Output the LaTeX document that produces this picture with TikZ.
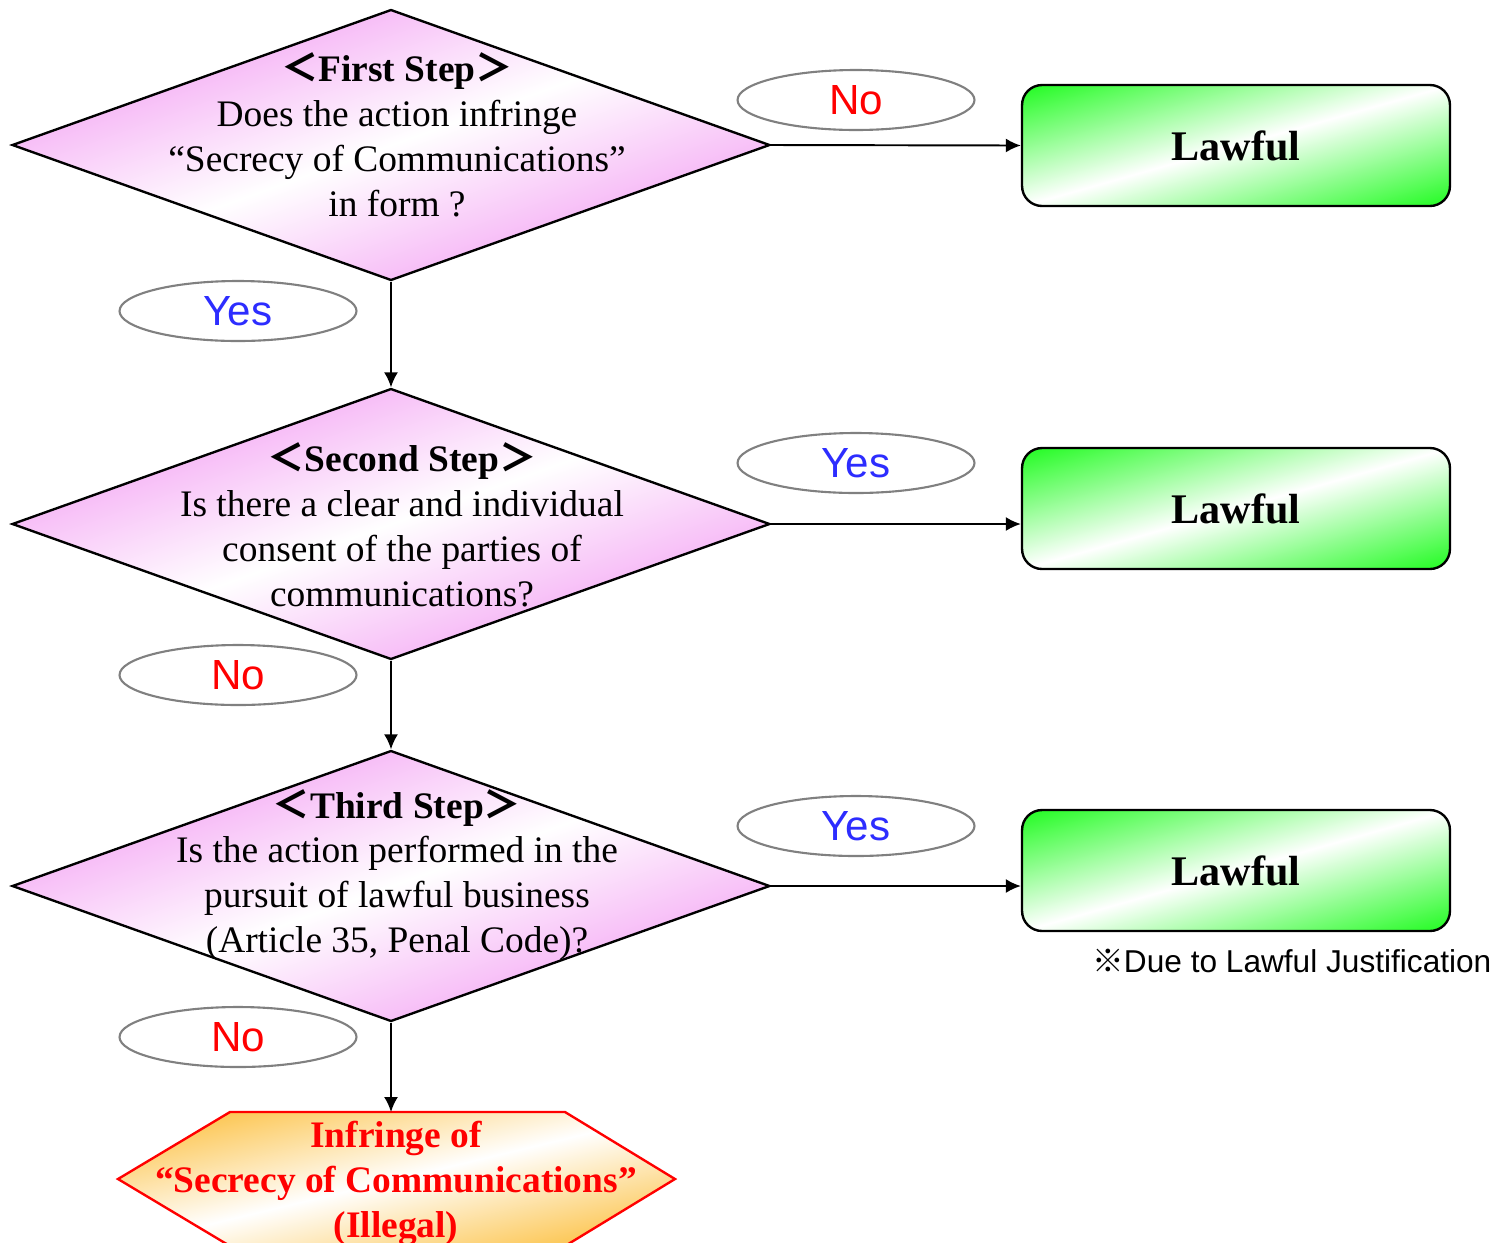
\documentclass[tikz,border=0pt]{standalone}
\usepackage{fontspec}
\setmainfont{Liberation Serif}
\setsansfont{Liberation Sans}
\newfontfamily\cjk{Noto Sans CJK JP}
\usetikzlibrary{arrows.meta,shapes.geometric}

\definecolor{stepink}{RGB}{247,190,247}
\definecolor{lawgreen}{RGB}{45,252,45}
\definecolor{illorange}{RGB}{252,196,76}
\definecolor{yesblue}{RGB}{45,45,255}

% diagonal fills: colour on both sides, white band through the middle
\pgfdeclareverticalshading{stepshade}{16cm}{color(0cm)=(stepink); color(0.5cm)=(stepink); color(3.05cm)=(white); color(5.6cm)=(stepink); color(6.1cm)=(stepink)}
\pgfdeclareverticalshading{lawshade}{12cm}{color(0cm)=(lawgreen); color(0.5cm)=(lawgreen); color(2.7cm)=(white); color(4.9cm)=(lawgreen); color(5.4cm)=(lawgreen)}
\pgfdeclareverticalshading{illshade}{12cm}{color(0cm)=(illorange); color(0.6cm)=(illorange); color(2.8cm)=(white); color(5.0cm)=(illorange); color(5.6cm)=(illorange)}

\begin{document}
\begin{tikzpicture}[x=0.02cm,y=0.02cm]
\tikzset{stepbox/.style={diamond,draw,line width=1.35pt,inner sep=0pt,minimum width=15.16cm,minimum height=5.42cm,path picture={\pgftext[at=\pgfpointanchor{path picture bounding box}{center},rotate=19.7]{\pgfuseshading{stepshade}}}}}
\tikzset{steptext/.style={align=center,font=\fontsize{21.3}{25.6}\selectfont}}
\tikzset{lawbox/.style={rectangle,draw,line width=1.35pt,rounded corners=0.4cm,minimum width=8.56cm,minimum height=2.42cm,path picture={\pgftext[at=\pgfpointanchor{path picture bounding box}{center},rotate=15.8]{\pgfuseshading{lawshade}}},font=\fontsize{24}{28}\selectfont\bfseries}}
\tikzset{answer/.style={ellipse,draw=gray,line width=1.2pt,inner sep=0pt,minimum width=4.74cm,minimum height=1.2cm,font=\fontsize{24}{28}\sffamily}}
\tikzset{yes/.style={answer,text=yesblue}}
\tikzset{no/.style={answer,text=red}}
\tikzset{flow/.style={-{Latex[length=0.3cm,width=0.28cm]},line width=1.1pt}}

\useasboundingbox (0,0) rectangle (1497,-1242);

% the three steps
\node[stepbox] (s1) at (391,-145) {};
\node[stepbox] (s2) at (391,-524) {};
\node[stepbox] (s3) at (391,-886) {};
\node[steptext] (t1) at (397,-135) {{\cjk\bfseries ＜}\textbf{First Step}{\cjk\bfseries ＞}\\Does the action infringe\\``Secrecy of Communications''\\in form ?};
\node[steptext] (t2) at (402,-525) {{\cjk\bfseries ＜}\textbf{Second Step}{\cjk\bfseries ＞}\\Is there a clear and individual\\consent of the parties of\\communications?};
\node[steptext] (t3) at (397,-875) {{\cjk\bfseries ＜}\textbf{Third Step}{\cjk\bfseries ＞}\\Is the action performed in the\\pursuit of lawful business\\(Article 35, Penal Code)?};

% results
\node[lawbox] (l1) at (1236,-145.5) {Lawful};
\node[lawbox] (l2) at (1236,-508.5) {Lawful};
\node[lawbox] (l3) at (1236,-870.5) {Lawful};
\node[anchor=west,inner sep=0pt,font=\fontsize{18}{21}\sffamily] (note) at (1092,-961) {{\cjk ※}Due to Lawful Justification};

\draw[draw=red,line width=1.35pt,path picture={\pgftext[at=\pgfpointanchor{path picture bounding box}{center},rotate=13.5]{\pgfuseshading{illshade}}}]
  (118,-1179) -- (230,-1112) -- (565,-1112) -- (675,-1179) -- (565,-1246) -- (230,-1246) -- cycle;
\coordinate (illtop) at (391,-1112);
\node[align=center,text=red,font=\fontsize{21.3}{25.6}\selectfont\bfseries] (ill) at (396,-1183) {Infringe of\\``Secrecy of Communications''\\(Illegal)};

% answers
\node[no] (a1) at (856,-100) {No};
\node[yes] (a2) at (238,-311) {Yes};
\node[yes] (a3) at (856,-463) {Yes};
\node[no] (a4) at (238,-675) {No};
\node[yes] (a5) at (856,-826) {Yes};
\node[no] (a6) at (238,-1037) {No};

% connectors
\draw[flow] (s1.east) -- (l1.west);
\draw[flow] (s2.east) -- (s2.east -| l2.west);
\draw[flow] (s3.east) -- (s3.east -| l3.west);
\draw[flow] (s1.south) -- (s2.north);
\draw[flow] (s2.south) -- (s3.north);
\draw[flow] (s3.south) -- (illtop);

\end{tikzpicture}
\end{document}
